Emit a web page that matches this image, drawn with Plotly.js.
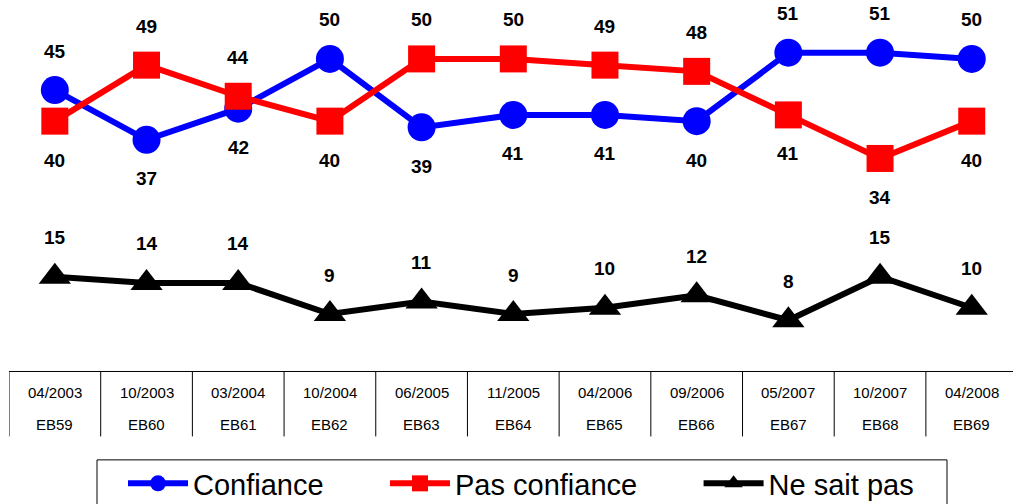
<!DOCTYPE html>
<html><head><meta charset="utf-8">
<script src="https://cdn.plot.ly/plotly-3.0.1.min.js"></script>
<style>body{margin:0;padding:0;background:#fff}#chart{width:1013px;height:504px}</style>
</head><body><div id="chart"></div>
<script>
const dates = ["04/2003","10/2003","03/2004","10/2004","06/2005","11/2005","04/2006","09/2006","05/2007","10/2007","04/2008"];
const waves = ["EB59","EB60","EB61","EB62","EB63","EB64","EB65","EB66","EB67","EB68","EB69"];
const confiance = [45,37,42,50,39,41,41,40,51,51,50];
const pasConfiance = [40,49,44,40,50,50,49,48,41,34,40];
const neSaitPas = [15,14,14,9,11,9,10,12,8,15,10];
// label placement: 1 = above, -1 = below
const confiancePos = [1,-1,-1,1,-1,-1,-1,-1,1,1,1];
const pasConfiancePos = [-1,1,1,-1,1,1,1,1,-1,-1,-1];
const neSaitPasPos = [1,1,1,1,1,1,1,1,1,1,1];

const idx = dates.map((_, i) => i);
const FONT = "Liberation Sans, Arial, sans-serif";
const PAD = "\u00a0".repeat(7); // spacing after each legend entry

const series = [
  {name:"Confiance", y:confiance, pos:confiancePos, color:"#0000FF", symbol:"circle", size:28},
  {name:"Pas confiance", y:pasConfiance, pos:pasConfiancePos, color:"#FF0000", symbol:"square", size:27},
  {name:"Ne sait pas", y:neSaitPas, pos:neSaitPasPos, color:"#000000", symbol:"triangle-up", size:28}
];

const traces = series.map(s => ({
  type:"scatter", mode:"lines+markers", name:s.name + PAD, x:idx, y:s.y,
  line:{color:s.color, width:6},
  marker:{color:s.color, symbol:s.symbol, size:s.size},
  cliponaxis:false, hoverinfo:"skip"
}));

const annotations = [];
series.forEach(s => {
  s.y.forEach((v, i) => {
    annotations.push({x:i, y:v, xref:"x", yref:"y", text:String(v), showarrow:false,
      yshift: s.pos[i] * 39, font:{family:FONT, size:19, color:"#000", weight:"bold"}});
  });
});

const PH = 370.5; // plot height in px
const py = px => -(px - PH) / PH; // pixel row -> paper y
const shapes = [];
shapes.push({type:"line", xref:"x", yref:"paper", x0:-0.5, x1:10.45, y0:py(372), y1:py(372), line:{color:"#000", width:1}});
for (let i = 0; i <= dates.length; i++) {
  shapes.push({type:"line", xref:"x", yref:"paper", x0:i-0.5, x1:i-0.5, y0:py(372), y1:py(437), line:{color:"#000", width:1}});
}
// legend frame
shapes.push({type:"rect", xref:"paper", yref:"paper", x0:(97-9)/1004, x1:(947-9)/1004, y0:py(460.5), y1:py(506), line:{color:"#000", width:1}, fillcolor:"rgba(0,0,0,0)"});
dates.forEach((d, i) => {
  annotations.push({x:i, y:py(393), xref:"x", yref:"paper", yanchor:"middle", text:d, showarrow:false, font:{family:FONT, size:15, color:"#000"}});
  annotations.push({x:i, y:py(425), xref:"x", yref:"paper", yanchor:"middle", text:waves[i], showarrow:false, font:{family:FONT, size:15, color:"#000"}});
});

const layout = {
  width:1013, height:504,
  margin:{l:9, r:0, t:0, b:133.5, pad:0},
  paper_bgcolor:"#fff", plot_bgcolor:"#fff",
  xaxis:{range:[-0.5, 10.45], showgrid:false, zeroline:false, showline:false, showticklabels:false, ticks:"", fixedrange:true},
  yaxis:{range:[0, 59.47], showgrid:false, zeroline:false, showline:false, showticklabels:false, ticks:"", fixedrange:true},
  showlegend:true,
  legend:{orientation:"h", xref:"container", yref:"container", x:123/1013, xanchor:"left", y:1-458/504, yanchor:"top",
    borderwidth:0, bgcolor:"rgba(0,0,0,0)",
    font:{family:FONT, size:29, color:"#000"}, itemwidth:60},
  annotations:annotations, shapes:shapes,
  font:{family:FONT}
};

Plotly.newPlot("chart", traces, layout, {displayModeBar:false, staticPlot:true});
</script></body></html>
